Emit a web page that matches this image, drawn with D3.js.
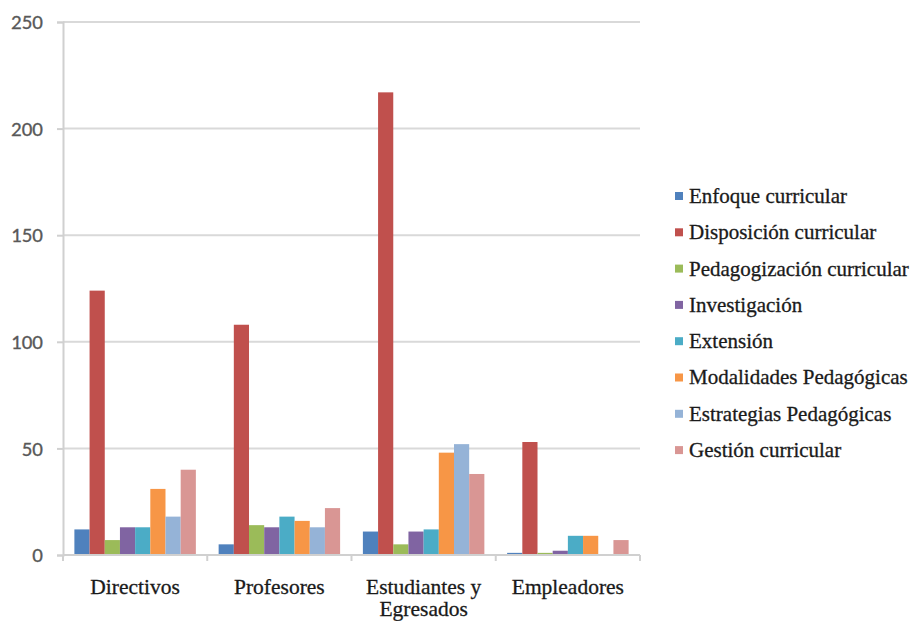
<!DOCTYPE html>
<html><head><meta charset="utf-8">
<script src="https://cdn.jsdelivr.net/npm/d3@7"></script>
<style>body{margin:0;background:#fff;} svg{display:block;}</style>
</head><body>
<svg id="chart" width="917" height="621"></svg>
<script>
const categories = [["Directivos"], ["Profesores"], ["Estudiantes y", "Egresados"], ["Empleadores"]];
const seriesNames = ["Enfoque curricular", "Disposición curricular", "Pedagogización curricular", "Investigación", "Extensión", "Modalidades Pedagógicas", "Estrategias Pedagógicas", "Gestión curricular"];
const seriesColors = ["#4F81BD", "#C0504D", "#9BBB59", "#8064A2", "#4BACC6", "#F79646", "#95B3D7", "#D99694"];
const enfoque      = [12, 5, 11, 1];
const disposicion  = [124, 108, 217, 53];
const pedagogizacion = [7, 14, 5, 1];
const investigacion = [13, 13, 11, 2];
const extension    = [13, 18, 12, 9];
const modalidades  = [31, 16, 48, 9];
const estrategias  = [18, 13, 52, 0];
const gestion      = [40, 22, 38, 7];
const seriesValues = [enfoque, disposicion, pedagogizacion, investigacion, extension, modalidades, estrategias, gestion];
const yTicks = [0, 50, 100, 150, 200, 250];

(function () {
const SERIF = "Liberation Serif";
const SANS = "Carlito";
const svg = d3.select("#chart");
const mLeft = 63, mRight = 640, mTop = 22, mBottom = 555;

const y = d3.scaleLinear().domain([0, 250]).range([mBottom, mTop]);
const x0 = d3.scaleBand().domain(d3.range(categories.length)).range([mLeft, mRight]).paddingInner(0).paddingOuter(0);
const x1 = d3.scaleBand().domain(d3.range(seriesNames.length)).range([0, x0.bandwidth()]).paddingOuter(0.75).paddingInner(0);

// gridlines
svg.append("g").selectAll("line").data(yTicks.filter(d => d > 0)).join("line")
  .attr("x1", mLeft).attr("x2", mRight)
  .attr("y1", d => y(d)).attr("y2", d => y(d))
  .attr("stroke", "#d9d9d9").attr("stroke-width", 2);

// y axis
const yAxis = d3.axisLeft(y).tickValues(yTicks).tickSize(6).tickPadding(14);
const gy = svg.append("g").attr("transform", `translate(${mLeft},0)`).call(yAxis);
gy.attr("font-family", SANS).attr("font-size", 21);
gy.select(".domain").attr("stroke", "#d0d0d0").attr("stroke-width", 2);
gy.selectAll(".tick line").attr("stroke", "#d0d0d0").attr("stroke-width", 2);
gy.selectAll(".tick text").attr("fill", "#595959").attr("stroke", "#595959").attr("stroke-width", 0.3)
  .attr("font-family", SANS).attr("font-size", 21);

// bars
const groups = svg.append("g").selectAll("g").data(categories).join("g")
  .attr("transform", (d, i) => `translate(${x0(i)},0)`);
groups.selectAll("rect").data((d, i) => seriesValues.map((s, j) => ({j, v: s[i]}))).join("rect")
  .attr("x", d => x1(d.j)).attr("width", x1.bandwidth())
  .attr("y", d => y(d.v)).attr("height", d => mBottom - y(d.v))
  .attr("fill", d => seriesColors[d.j]);

// x axis
const gx = svg.append("g").attr("transform", `translate(0,${mBottom})`);
gx.append("line").attr("x1", mLeft).attr("x2", mRight).attr("y1", 0).attr("y2", 0).attr("stroke", "#d0d0d0").attr("stroke-width", 2);
gx.selectAll("line.tk").data(d3.range(categories.length + 1)).join("line").attr("class", "tk")
  .attr("x1", i => mLeft + i * x0.step()).attr("x2", i => mLeft + i * x0.step())
  .attr("y1", 0).attr("y2", 6).attr("stroke", "#d0d0d0").attr("stroke-width", 2);
const labels = gx.selectAll("text").data(categories).join("text")
  .attr("x", (d, i) => x0(i) + x0.bandwidth() / 2).attr("y", 39)
  .attr("text-anchor", "middle")
  .attr("font-family", SERIF).attr("font-size", 21.5).attr("fill", "#1a1a1a")
  .attr("stroke", "#1a1a1a").attr("stroke-width", 0.3);
labels.selectAll("tspan").data(d => d).join("tspan")
  .attr("x", function() { return d3.select(this.parentNode).attr("x"); })
  .attr("dy", (d, k) => k === 0 ? 0 : 22).text(d => d);

// legend
const lg = svg.append("g").attr("transform", "translate(675,196)");
const items = lg.selectAll("g").data(seriesNames).join("g").attr("transform", (d, i) => `translate(0,${i * 36.3})`);
items.append("rect").attr("x", 0).attr("y", -4).attr("width", 8).attr("height", 8).attr("fill", (d, i) => seriesColors[i]);
items.append("text").attr("x", 14).attr("y", 0).attr("dy", "0.33em").text(d => d)
  .attr("font-family", SERIF).attr("font-size", 21).attr("fill", "#1a1a1a")
  .attr("stroke", "#1a1a1a").attr("stroke-width", 0.3);
})();
</script>
</body></html>
